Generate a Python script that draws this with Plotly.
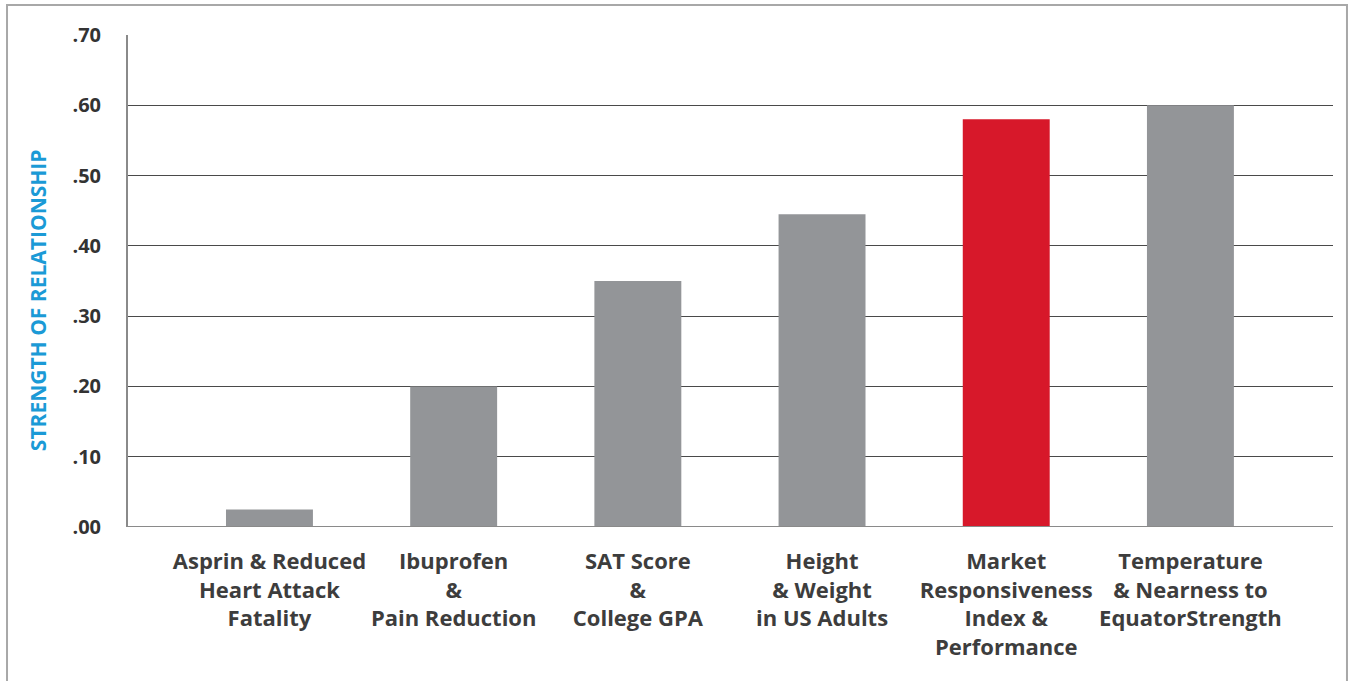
import plotly.graph_objects as go

categories = [
    "Asprin & Reduced<br>Heart Attack<br>Fatality",
    "Ibuprofen<br>&<br>Pain Reduction",
    "SAT Score<br>&<br>College GPA",
    "Height<br>& Weight<br>in US Adults",
    "Market<br>Responsiveness<br>Index &<br>Performance",
    "Temperature<br>& Nearness to<br>EquatorStrength",
]
values = [0.025, 0.20, 0.35, 0.445, 0.58, 0.60]
bar_colors = ["#939598", "#939598", "#939598", "#939598", "#d7182a", "#939598"]
tick_vals = [0.0, 0.1, 0.2, 0.3, 0.4, 0.5, 0.6, 0.7]
tick_text = [".00", ".10", ".20", ".30", ".40", ".50", ".60", ".70"]
y_title = "STRENGTH OF RELATIONSHIP"

x_idx = list(range(len(categories)))

fig = go.Figure(go.Bar(
    x=x_idx, y=values, marker=dict(color=bar_colors, line=dict(width=0)),
    width=0.472,
))

fig.update_layout(
    width=1349, height=681,
    margin=dict(l=128, r=16, t=35, b=154, autoexpand=False),
    paper_bgcolor="white", plot_bgcolor="white",
    showlegend=False,
    font=dict(family="Open Sans, sans-serif", color="#3a3a3a"),
    xaxis=dict(
        tickmode="array", tickvals=x_idx, ticktext=categories,
        range=[-0.768, 5.774], automargin=False, tickangle=0,
        showgrid=False, zeroline=False, showline=False,
        ticks="", ticklabelstandoff=19,
        tickfont=dict(family="Open Sans", size=22, color="#3d3d3d", weight="bold"),
        fixedrange=True,
    ),
    yaxis=dict(
        range=[0, 0.7], tickmode="array", tickvals=tick_vals, ticktext=tick_text,
        automargin=False,
        showgrid=True, gridcolor="#4a4a4a", gridwidth=1,
        zeroline=False,
        showline=True, linecolor="#8a8a8a", linewidth=2,
        ticks="", ticklabelstandoff=21,
        tickfont=dict(family="Open Sans", size=20, color="#333333", weight="bold"),
        fixedrange=True,
    ),
    annotations=[
        dict(text=y_title, xref="paper", yref="paper", x=-0.0747, y=0.461,
             xanchor="center", yanchor="middle", textangle=-90, showarrow=False,
             font=dict(family="Open Sans", size=21, color="#1b9ad6", weight="bold")),
    ],
    shapes=[
        dict(type="line", xref="paper", yref="y", x0=0, x1=1, y0=0, y1=0,
             line=dict(color="#8a8a8a", width=2), layer="above"),
        dict(type="rect", xref="paper", yref="paper",
             x0=-0.1004, x1=1.0116, y0=-0.34, y1=1.061,
             line=dict(color="#a8a8a8", width=2), fillcolor="rgba(0,0,0,0)"),
    ],
)

fig.write_html("out.html", config={"displayModeBar": False},
               post_script="document.body.style.margin='0px';document.body.style.overflow='hidden';")
